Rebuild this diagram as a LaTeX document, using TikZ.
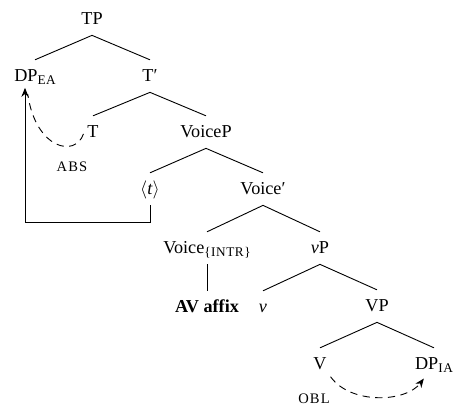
\documentclass[tikz,border=0pt]{standalone}
\usepackage{fontspec}
\setmainfont{Liberation Serif}
\usepackage{tikz}
\usetikzlibrary{%
	calc,%
	arrows.meta,%
	positioning,%
}
\tikzset{
	>={Stealth[length=5pt,width=4pt]},%
	catnode/.style={%
			anchor=base,%
			inner sep=0pt,%
			text height=12pt,%
			text depth=5.5pt},%
	casenode/.style={%
			anchor=base,%
			inner sep=0pt},%
	branch/.style={%
			line width=0.5pt},%
	agree/.style={%
			dashed,%
			dash pattern=on 4pt off 3pt,%
			line width=0.5pt},%
}
\newcommand{\lowsc}[1]{\raisebox{-1.2pt}{\fontsize{7.3}{8}\selectfont\addfontfeature{LetterSpace=4}#1}}
\newcommand{\casename}[1]{{\fontsize{8}{9}\selectfont\addfontfeature{LetterSpace=8}#1}}

\begin{document}
\begin{tikzpicture}[x=0.55pt, y=-0.55pt, nodes={font={\fontsize{10}{12}\selectfont}}]%
	\useasboundingbox (0,0) rectangle (453,408);

	\node[catnode] (tp) at (92,25) {TP};
	\node[catnode] (dpea) at (35,82) {DP\lowsc{EA}};
	\node[catnode] (tbar) at (150,82) {T′};
	\node[catnode] (t) at (93,138) {T};
	\node[catnode] (voicep) at (206,138) {VoiceP};
	\node[catnode] (trace) at (150,195) {$\langle$\textit{t}$\rangle$};
	\node[catnode] (voicebar) at (263,195) {Voice′};
	\node[catnode] (voice) at (207,254) {Voice\lowsc{\{INTR\}}};
	\node[catnode] (vp) at (320,254) {\textit{v}P};
	\node[catnode] (avaffix) at (207,313) {\textbf{AV affix}};
	\node[catnode] (vlittle) at (263,313) {\textit{v}};
	\node[catnode] (vbigp) at (377,312) {VP};
	\node[catnode] (vhead) at (320,370) {V};
	\node[catnode] (dpia) at (434,370) {DP\lowsc{IA}};

	\node[casenode] (abs) at (72,172) {\casename{ABS}};
	\node[casenode] (obl) at (314,403) {\casename{OBL}};

	\draw[branch] (tp.south) -- (dpea.north);
	\draw[branch] (tp.south) -- (tbar.north);
	\draw[branch] (tbar.south) -- (t.north);
	\draw[branch] (tbar.south) -- (voicep.north);
	\draw[branch] (voicep.south) -- (trace.north);
	\draw[branch] (voicep.south) -- (voicebar.north);
	\draw[branch] (voicebar.south) -- (voice.north);
	\draw[branch] (voicebar.south) -- (vp.north);
	\draw[branch] (voice.south) -- (avaffix.north);
	\draw[branch] (vp.south) -- (vlittle.north);
	\draw[branch] (vp.south) -- (vbigp.north);
	\draw[branch] (vbigp.south) -- (vhead.north);
	\draw[branch] (vbigp.south) -- (dpia.north);

	\coordinate (land) at ([xshift=-5.5pt,yshift=2.5pt]dpea.south);
	\coordinate (turn) at ($(trace.south)+(0,17)$);
	\draw[->, branch] (trace.south) -- (turn) -| (land);

	\coordinate (absend) at ([xshift=-4pt,yshift=-1pt]dpea.south);
	\coordinate (absstart) at ([xshift=-2pt,yshift=-1pt]t.west);
	\draw[agree] (absstart) .. controls +(-8,24) and +(8,55) .. (absend);

	\coordinate (oblstart) at ([xshift=2pt,yshift=2pt]vhead.south east);
	\coordinate (oblend) at ([xshift=5pt,yshift=1pt]dpia.south west);
	\draw[->, agree] (oblstart) .. controls +(20,28) and +(-18,24) .. (oblend);
\end{tikzpicture}
\end{document}
